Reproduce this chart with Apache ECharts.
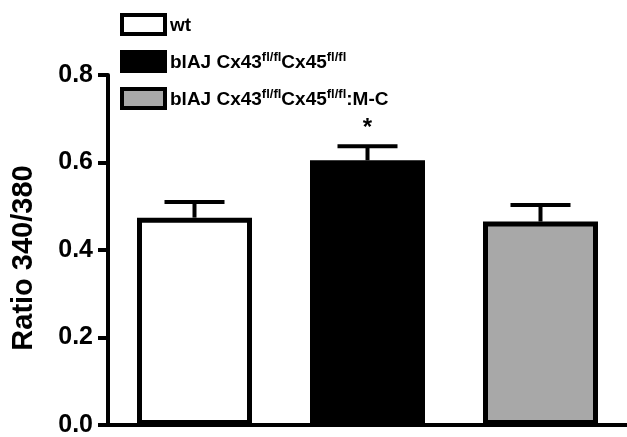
<!DOCTYPE html>
<html>
<head>
<meta charset="utf-8">
<script src="https://cdn.jsdelivr.net/npm/echarts@6/dist/echarts.min.js"></script>
<style>html,body{margin:0;padding:0;background:#fff}#c{width:627px;height:437px}</style>
</head>
<body>
<div id="c"></div>
<script>
var categories = ['wt', 'blAJ Cx43fl/flCx45fl/fl', 'blAJ Cx43fl/flCx45fl/fl:M-C'];
var means = [0.474, 0.605, 0.465];
var errors = [0.036, 0.032, 0.038];
var sigMarks = ['', '*', ''];
var fills = ['#ffffff', '#000000', '#a8a8a8'];
var yTicks = [0, 0.2, 0.4, 0.6, 0.8];

var FONT = '"Liberation Sans", Arial, Helvetica, sans-serif';
var chart = echarts.init(document.getElementById('c'));

var barSeries = categories.map(function (name, i) {
  var d = categories.map(function (c, j) { return j === i ? means[i] : '-'; });
  return {
    name: name,
    type: 'bar',
    data: d,
    barWidth: 115,
    barGap: '-100%',
    itemStyle: { color: fills[i], borderColor: '#000', borderWidth: 5 },
    z: 2
  };
});

var errData = categories.map(function (c, i) { return [i, means[i], means[i] + errors[i], sigMarks[i]]; });

var errSeries = {
  type: 'custom',
  data: errData,
  z: 3,
  renderItem: function (params, api) {
    var x = api.value(0);
    var lo = api.coord([x, api.value(1)]);
    var hi = api.coord([x, api.value(2)]);
    var half = 30;
    var st = { stroke: '#000', lineWidth: 4 };
    var children = [
      { type: 'line', shape: { x1: lo[0], y1: lo[1], x2: hi[0], y2: hi[1] }, style: st },
      { type: 'line', shape: { x1: hi[0] - half, y1: hi[1], x2: hi[0] + half, y2: hi[1] }, style: st }
    ];
    var mark = errData[params.dataIndex][3];
    if (mark) {
      children.push({ type: 'text', style: { text: mark, x: hi[0], y: hi[1] - 6, align: 'center', verticalAlign: 'bottom', font: 'bold 24px ' + FONT, fill: '#000' } });
    }
    return { type: 'group', children: children };
  }
};

chart.setOption({
  animation: false,
  backgroundColor: '#fff',
  grid: { left: 108, right: 0, top: 75, bottom: 12, containLabel: false, outerBoundsMode: 'none' },
  legend: {
    orient: 'vertical',
    left: 120,
    top: 13,
    padding: 0,
    icon: 'rect',
    itemWidth: 43,
    itemHeight: 19,
    itemGap: 14,
    selectedMode: false,
    data: categories.map(function (n, i) { return { name: n, itemStyle: { color: fills[i], borderColor: '#000', borderWidth: 4 } }; }),
    formatter: function (name) {
      return '{b|' + name.replace(/fl\/fl/g, '}{s|fl/fl}{b|') + '}';
    },
    textStyle: {
      rich: {
        b: { fontFamily: FONT, fontWeight: 'bold', fontSize: 19, color: '#000', lineHeight: 21, verticalAlign: 'bottom' },
        s: { fontFamily: FONT, fontWeight: 'bold', fontSize: 13, color: '#000', lineHeight: 21, verticalAlign: 'top' }
      }
    }
  },
  xAxis: {
    type: 'category',
    data: categories,
    axisLine: { lineStyle: { color: '#000', width: 4 } },
    axisTick: { show: false },
    axisLabel: { show: false },
    splitLine: { show: false }
  },
  yAxis: {
    type: 'value',
    min: yTicks[0],
    max: yTicks[yTicks.length - 1],
    interval: 0.2,
    name: 'Ratio 340/380',
    nameLocation: 'middle',
    nameGap: 70,
    nameTextStyle: { fontFamily: FONT, fontWeight: 'bold', fontSize: 29, color: '#000', padding: [0, 16, 0, 0] },
    axisLine: { show: true, lineStyle: { color: '#000', width: 4 } },
    axisTick: { show: true, length: 10, lineStyle: { color: '#000', width: 4 } },
    axisLabel: { margin: 15, fontFamily: FONT, fontWeight: 'bold', fontSize: 25, color: '#000', formatter: function (v) { return v.toFixed(1); } },
    splitLine: { show: false }
  },
  series: barSeries.concat([errSeries])
});
</script>
</body>
</html>
